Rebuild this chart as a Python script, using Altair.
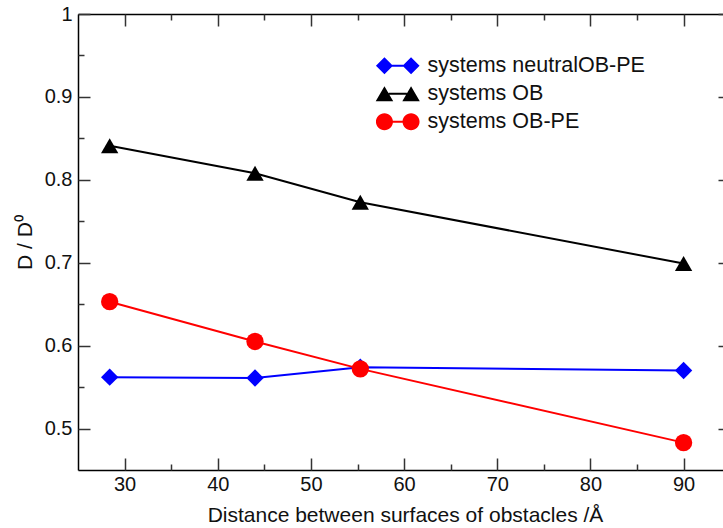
import altair as alt
import pandas as pd

# ---------------- data ----------------
series_names = ["systems neutralOB-PE", "systems OB", "systems OB-PE"]
distance = [28.4, 44.0, 55.3, 90.0]
neutral_ob_pe = [0.562, 0.561, 0.574, 0.570]
ob = [0.841, 0.808, 0.773, 0.699]
ob_pe = [0.653, 0.605, 0.572, 0.483]

x_major = [30, 40, 50, 60, 70, 80, 90]
x_minor = [35, 45, 55, 65, 75, 85]
y_major = [0.5, 0.6, 0.7, 0.8, 0.9, 1.0]
y_minor = [0.55, 0.65, 0.75, 0.85, 0.95]

x_title = "Distance between surfaces of obstacles /Å"
y_title = "D / D⁰"

# ---------------- styles ----------------
colors = ["#0000ff", "#000000", "#ff0000"]
marker_shapes = ["diamond", "triangle-up", "circle"]
FONT = "Liberation Sans"
FS = 20
TICK_COLOR = "#333333"


def f(v):
    return f"{v:.3f}"


def diamond(cx, h):
    return f"M{f(cx-h)},0L{f(cx)},{f(-h)}L{f(cx+h)},0L{f(cx)},{f(h)}Z"


def triangle(cx, w, t):
    return f"M{f(cx-w)},{f(t)}L{f(cx)},{f(-t)}L{f(cx+w)},{f(t)}Z"


def circle(cx, r):
    k = 0.5523 * r
    return (f"M{f(cx-r)},0C{f(cx-r)},{f(-k)} {f(cx-k)},{f(-r)} {f(cx)},{f(-r)}"
            f"C{f(cx+k)},{f(-r)} {f(cx+r)},{f(-k)} {f(cx+r)},0"
            f"C{f(cx+r)},{f(k)} {f(cx+k)},{f(r)} {f(cx)},{f(r)}"
            f"C{f(cx-k)},{f(r)} {f(cx-r)},{f(k)} {f(cx-r)},0Z")


def bar(x0, x1, th=0.15):
    return f"M{f(x0)},{f(-th)}L{f(x1)},{f(-th)}L{f(x1)},{f(th)}L{f(x0)},{f(th)}Z"


c = 1.9
legend_paths = [
    diamond(-c, 1.214) + diamond(c, 1.214) + bar(-c + 1.1, c - 1.1),
    triangle(-c, 1.25, 1.08) + triangle(c, 1.25, 1.08) + bar(-c + 0.6, c - 0.6),
    circle(-c, 1.214) + circle(c, 1.214) + bar(-c + 1.1, c - 1.1),
]

rows = []
for name, vals in zip(series_names, [neutral_ob_pe, ob, ob_pe]):
    for d, v in zip(distance, vals):
        rows.append({"distance": d, "ratio": v, "series": name})
df = pd.DataFrame(rows)

x_scale = alt.Scale(domain=[25, 94.23], nice=False, zero=False)
y_scale = alt.Scale(domain=[0.45, 1.0], nice=False, zero=False)
color_scale = alt.Scale(domain=series_names, range=colors)


def tick_axis(orient, values, size, offset):
    return alt.Axis(orient=orient, values=values, tickSize=size, offset=offset,
                    labels=False, domain=False, grid=False, ticks=True, title=None,
                    tickColor=TICK_COLOR, tickWidth=1.5)


def frame_axis(orient):
    return alt.Axis(orient=orient, labels=False, ticks=False, grid=False, title=None,
                    domain=True, domainColor="#000000", domainWidth=1.5)


lines = alt.Chart(df).mark_line(strokeWidth=2).encode(
    x=alt.X("distance:Q", scale=x_scale, axis=alt.Axis(
        orient="bottom", values=x_major, ticks=False, grid=False, domain=True,
        domainColor="#000000", domainWidth=1.5, labelFont=FONT, labelFontSize=FS,
        labelColor="#111111", labelPadding=4, labelFlush=False, title=x_title,
        titleFont=FONT, titleFontSize=21, titleFontWeight="normal",
        titleColor="#111111", titlePadding=10, titleX=327)),
    y=alt.Y("ratio:Q", scale=y_scale, axis=alt.Axis(
        orient="left", values=y_major, format=".1~f", ticks=False, grid=False,
        domain=True, domainColor="#000000", domainWidth=1.5, labelFont=FONT,
        labelFontSize=FS, labelColor="#111111", labelPadding=6, labelFlush=False,
        title=y_title, titleFont=FONT, titleFontSize=21, titleFontWeight="normal",
        titleColor="#111111", titlePadding=9)),
    color=alt.Color("series:N", scale=color_scale, legend=None),
)

points = alt.Chart(df).mark_point(filled=True, size=300, opacity=1).encode(
    x=alt.X("distance:Q", scale=x_scale, axis=tick_axis("bottom", x_major, 12, -12)),
    y=alt.Y("ratio:Q", scale=y_scale, axis=tick_axis("left", y_major, 12, -12)),
    color=alt.Color("series:N", scale=color_scale, legend=None),
    shape=alt.Shape("series:N", scale=alt.Scale(domain=series_names, range=marker_shapes),
                    legend=None),
)

leg = alt.Legend(orient="none", legendX=309, legendY=41, title=None, labelFont=FONT,
                 labelFontSize=21.5, labelColor="#111111", labelOffset=19, labelLimit=400,
                 rowPadding=5, padding=0, offset=0, symbolSize=196, symbolStrokeWidth=0,
                 symbolOpacity=1)

legend_layer = alt.Chart(df).transform_filter("false").mark_point(
    filled=True, size=196, opacity=1).encode(
    x=alt.X("distance:Q", scale=x_scale, axis=tick_axis("bottom", x_minor, 6, -6)),
    y=alt.Y("ratio:Q", scale=y_scale, axis=tick_axis("left", y_minor, 6, -6)),
    color=alt.Color("series:N", scale=color_scale, legend=leg),
    shape=alt.Shape("series:N", scale=alt.Scale(domain=series_names, range=legend_paths),
                    legend=leg),
)

top_frame = alt.Chart(df).transform_filter("false").mark_point().encode(
    x=alt.X("distance:Q", scale=x_scale, axis=frame_axis("top")),
    y=alt.Y("ratio:Q", scale=y_scale, axis=tick_axis("right", y_major, 12, -5)),
)

top_major = alt.Chart(df).transform_filter("false").mark_point().encode(
    x=alt.X("distance:Q", scale=x_scale, axis=tick_axis("top", x_major, 12, -12)),
    y=alt.Y("ratio:Q", scale=y_scale, axis=None),
)

top_minor = alt.Chart(df).transform_filter("false").mark_point().encode(
    x=alt.X("distance:Q", scale=x_scale, axis=tick_axis("top", x_minor, 6, -6)),
    y=alt.Y("ratio:Q", scale=y_scale, axis=None),
)

chart = alt.layer(lines, points, legend_layer, top_frame, top_major, top_minor).resolve_axis(
    x="independent", y="independent"
).resolve_scale(
    color="independent", shape="independent"
).properties(
    width=645, height=456,
    autosize=alt.AutoSizeParams(type="none"),
    padding={"left": 78, "top": 14, "right": 0, "bottom": 58},
    background="white",
).configure_view(stroke=None)

chart.save("out.html", embed_options={"renderer": "svg", "actions": False})
